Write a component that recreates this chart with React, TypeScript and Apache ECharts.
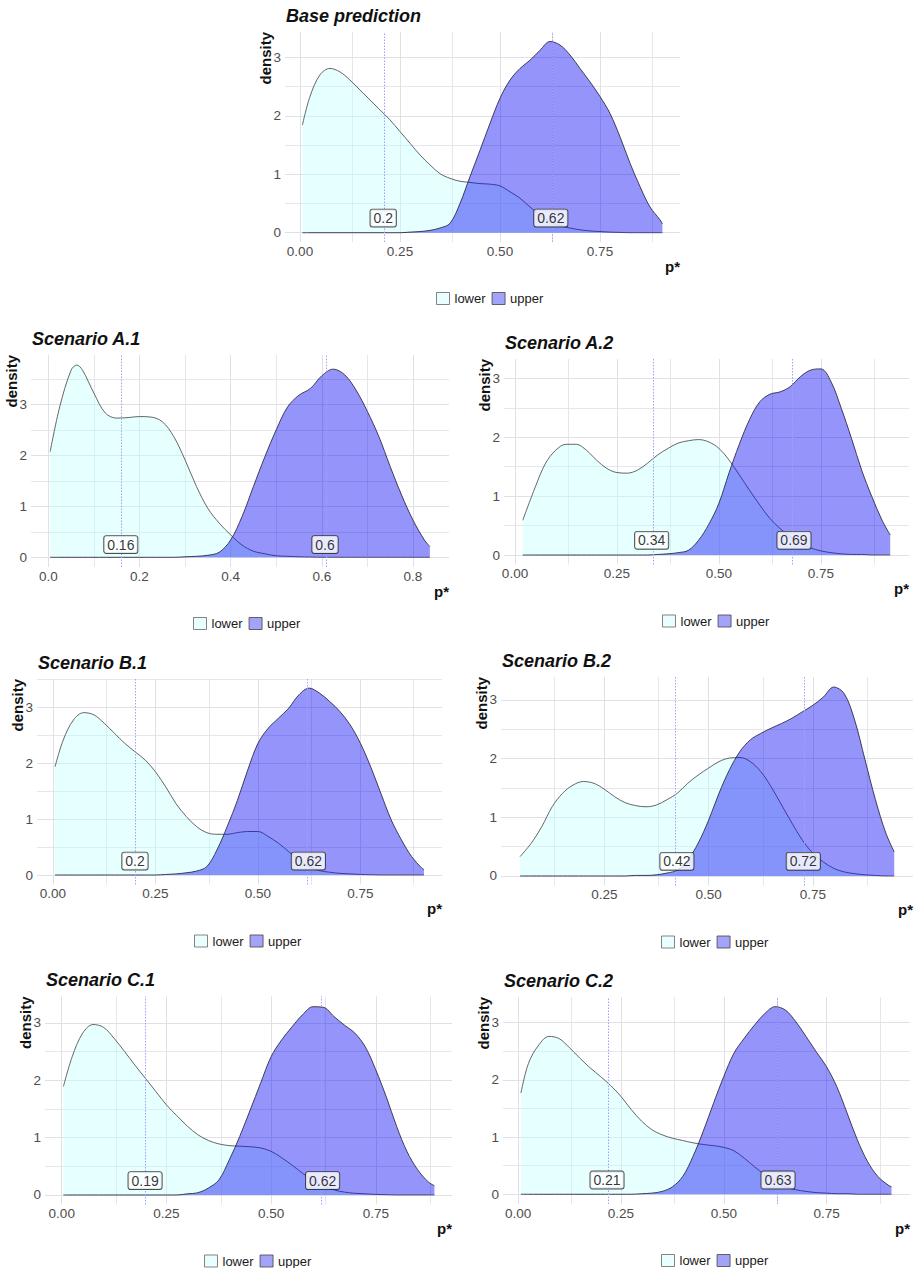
import React, { useEffect, useRef } from "react";
import * as echarts from "echarts";

// ---------- DATA ----------
const baseX = [0.006, 0.025, 0.05, 0.075, 0.1, 0.125, 0.15, 0.175, 0.2, 0.225, 0.25, 0.275, 0.3, 0.325, 0.35, 0.375, 0.4, 0.425, 0.45, 0.475, 0.5, 0.525, 0.55, 0.575, 0.6, 0.625, 0.65, 0.675, 0.7, 0.725, 0.75, 0.775, 0.8, 0.825, 0.85, 0.875, 0.9, 0.906];
const baseLower = [1.84, 2.33, 2.70, 2.81, 2.75, 2.61, 2.44, 2.27, 2.10, 1.93, 1.73, 1.53, 1.33, 1.16, 1.01, 0.93, 0.88, 0.86, 0.84, 0.83, 0.80, 0.70, 0.59, 0.44, 0.30, 0.19, 0.12, 0.08, 0.05, 0.03, 0.02, 0.01, 0.005, 0, 0, 0, 0, 0];
const baseUpper = [0, 0, 0, 0, 0, 0, 0, 0, 0, 0, 0, 0.01, 0.02, 0.04, 0.08, 0.16, 0.50, 0.96, 1.41, 1.87, 2.30, 2.61, 2.81, 2.95, 3.12, 3.27, 3.21, 3.04, 2.81, 2.58, 2.33, 2.04, 1.64, 1.19, 0.79, 0.44, 0.22, 0.15];

const a1X = [0.004, 0.025, 0.05, 0.0625, 0.075, 0.1, 0.125, 0.15, 0.175, 0.2, 0.225, 0.25, 0.275, 0.3, 0.325, 0.35, 0.375, 0.4, 0.425, 0.45, 0.475, 0.5, 0.525, 0.55, 0.575, 0.6, 0.625, 0.65, 0.675, 0.7, 0.725, 0.75, 0.775, 0.8, 0.825, 0.837];
const a1Lower = [2.07, 2.95, 3.67, 3.77, 3.67, 3.22, 2.83, 2.73, 2.74, 2.76, 2.75, 2.66, 2.37, 1.91, 1.39, 0.96, 0.67, 0.44, 0.24, 0.12, 0.07, 0.03, 0.02, 0.01, 0.005, 0, 0, 0, 0, 0, 0, 0, 0, 0, 0, 0];
const a1Upper = [0, 0, 0, 0, 0, 0, 0, 0, 0, 0, 0, 0, 0, 0.01, 0.02, 0.04, 0.10, 0.34, 0.80, 1.39, 1.97, 2.50, 2.95, 3.18, 3.31, 3.56, 3.69, 3.58, 3.28, 2.86, 2.37, 1.78, 1.22, 0.73, 0.34, 0.21];

const a2X = [0.019, 0.05, 0.075, 0.1, 0.125, 0.15, 0.175, 0.2, 0.225, 0.25, 0.275, 0.3, 0.325, 0.35, 0.375, 0.4, 0.425, 0.45, 0.475, 0.5, 0.525, 0.55, 0.575, 0.6, 0.625, 0.65, 0.675, 0.7, 0.725, 0.75, 0.775, 0.8, 0.825, 0.85, 0.875, 0.9, 0.92];
const a2Lower = [0.59, 1.16, 1.56, 1.78, 1.88, 1.88, 1.78, 1.61, 1.47, 1.40, 1.39, 1.44, 1.56, 1.70, 1.81, 1.90, 1.94, 1.96, 1.92, 1.81, 1.61, 1.36, 1.10, 0.85, 0.62, 0.45, 0.31, 0.20, 0.12, 0.07, 0.04, 0.02, 0.01, 0.01, 0, 0, 0];
const a2Upper = [0, 0, 0, 0, 0, 0, 0, 0, 0, 0, 0, 0, 0, 0.01, 0.02, 0.04, 0.08, 0.25, 0.52, 0.88, 1.40, 1.88, 2.30, 2.60, 2.73, 2.77, 2.86, 3.03, 3.14, 3.16, 2.94, 2.49, 1.98, 1.44, 0.99, 0.59, 0.34];

const b1X = [0.005, 0.025, 0.05, 0.075, 0.1, 0.125, 0.15, 0.175, 0.2, 0.225, 0.25, 0.275, 0.3, 0.325, 0.35, 0.375, 0.4, 0.425, 0.45, 0.475, 0.5, 0.525, 0.55, 0.575, 0.6, 0.625, 0.65, 0.675, 0.7, 0.725, 0.75, 0.775, 0.8, 0.825, 0.85, 0.875, 0.9, 0.905];
const b1Lower = [1.94, 2.42, 2.78, 2.91, 2.87, 2.72, 2.54, 2.36, 2.21, 2.06, 1.85, 1.58, 1.28, 1.05, 0.87, 0.76, 0.73, 0.73, 0.76, 0.78, 0.78, 0.69, 0.57, 0.42, 0.27, 0.15, 0.08, 0.05, 0.03, 0.02, 0.01, 0.005, 0, 0, 0, 0, 0, 0];
const b1Upper = [0, 0, 0, 0, 0, 0, 0, 0, 0, 0, 0, 0.01, 0.02, 0.04, 0.07, 0.15, 0.45, 0.87, 1.34, 1.88, 2.36, 2.63, 2.81, 2.99, 3.23, 3.35, 3.26, 3.11, 2.93, 2.69, 2.36, 1.94, 1.46, 0.99, 0.63, 0.33, 0.12, 0.10];

const b2X = [0.048, 0.075, 0.1, 0.125, 0.15, 0.175, 0.2, 0.225, 0.25, 0.275, 0.3, 0.325, 0.35, 0.375, 0.4, 0.425, 0.45, 0.475, 0.5, 0.525, 0.55, 0.575, 0.6, 0.625, 0.65, 0.675, 0.7, 0.725, 0.75, 0.775, 0.8, 0.825, 0.85, 0.875, 0.9, 0.925, 0.945];
const b2Lower = [0.33, 0.56, 0.84, 1.18, 1.41, 1.55, 1.61, 1.58, 1.48, 1.35, 1.25, 1.20, 1.18, 1.21, 1.30, 1.41, 1.58, 1.72, 1.84, 1.95, 2.01, 2.02, 1.95, 1.78, 1.52, 1.21, 0.90, 0.61, 0.39, 0.24, 0.13, 0.07, 0.04, 0.02, 0.01, 0, 0];
const b2Upper = [0, 0, 0, 0, 0, 0, 0, 0, 0, 0, 0, 0.01, 0.01, 0.02, 0.05, 0.10, 0.27, 0.56, 0.95, 1.41, 1.81, 2.12, 2.32, 2.43, 2.52, 2.60, 2.69, 2.80, 2.91, 3.05, 3.22, 3.11, 2.66, 1.98, 1.30, 0.73, 0.41];

const c1X = [0.004, 0.025, 0.05, 0.075, 0.1, 0.125, 0.15, 0.175, 0.2, 0.225, 0.25, 0.275, 0.3, 0.325, 0.35, 0.375, 0.4, 0.425, 0.45, 0.475, 0.5, 0.525, 0.55, 0.575, 0.6, 0.625, 0.65, 0.675, 0.7, 0.725, 0.75, 0.775, 0.8, 0.825, 0.85, 0.875, 0.89];
const c1Lower = [1.89, 2.41, 2.82, 2.97, 2.92, 2.73, 2.50, 2.26, 2.03, 1.80, 1.57, 1.38, 1.20, 1.05, 0.95, 0.89, 0.86, 0.85, 0.84, 0.82, 0.76, 0.65, 0.52, 0.38, 0.26, 0.16, 0.09, 0.05, 0.03, 0.02, 0.01, 0.005, 0, 0, 0, 0, 0];
const c1Upper = [0, 0, 0, 0, 0, 0, 0, 0, 0, 0, 0, 0, 0.02, 0.04, 0.12, 0.26, 0.61, 1.02, 1.48, 1.95, 2.41, 2.70, 2.93, 3.14, 3.28, 3.27, 3.11, 2.96, 2.82, 2.58, 2.18, 1.71, 1.19, 0.75, 0.44, 0.23, 0.16];

const c2X = [0.0066, 0.025, 0.05, 0.075, 0.1, 0.125, 0.15, 0.175, 0.2, 0.225, 0.25, 0.275, 0.3, 0.325, 0.35, 0.375, 0.4, 0.425, 0.45, 0.475, 0.5, 0.525, 0.55, 0.575, 0.6, 0.625, 0.65, 0.675, 0.7, 0.725, 0.75, 0.775, 0.8, 0.825, 0.85, 0.875, 0.9, 0.908];
const c2Lower = [1.77, 2.29, 2.61, 2.76, 2.72, 2.56, 2.38, 2.21, 2.06, 1.90, 1.71, 1.48, 1.28, 1.13, 1.04, 0.98, 0.94, 0.90, 0.87, 0.85, 0.82, 0.76, 0.63, 0.48, 0.34, 0.22, 0.13, 0.08, 0.05, 0.03, 0.02, 0.01, 0.01, 0, 0, 0, 0, 0];
const c2Upper = [0, 0, 0, 0, 0, 0, 0, 0, 0, 0, 0, 0, 0.01, 0.02, 0.05, 0.13, 0.31, 0.66, 1.10, 1.59, 2.06, 2.47, 2.73, 2.96, 3.16, 3.28, 3.22, 3.02, 2.76, 2.49, 2.23, 1.88, 1.42, 0.95, 0.57, 0.31, 0.16, 0.13];

const titles = ["Base prediction", "Scenario A.1", "Scenario A.2", "Scenario B.1", "Scenario B.2", "Scenario C.1", "Scenario C.2"];
const cutValues = [[0.208, 0.627], [0.159, 0.607], [0.335, 0.684], [0.2, 0.623], [0.424, 0.727], [0.199, 0.623], [0.216, 0.632]];
const cutLabels = [["0.2", "0.62"], ["0.16", "0.6"], ["0.34", "0.69"], ["0.2", "0.62"], ["0.42", "0.72"], ["0.19", "0.62"], ["0.21", "0.63"]];
const xTicksQuarter = [0, 0.25, 0.5, 0.75];
const xMinorQuarter = [0.125, 0.375, 0.625, 0.875];
const xTicksFifth = [0, 0.2, 0.4, 0.6, 0.8];
const xMinorFifth = [0.1, 0.3, 0.5, 0.7];
const yTicks = [0, 1, 2, 3];
const yMinor = [0.5, 1.5, 2.5, 3.5];
const legendNames = ["lower", "upper"];
const LABEL_Y = 0.25;

const PANELS = [
  { x: baseX, lower: baseLower, upper: baseUpper, ticks: xTicksQuarter, minor: xMinorQuarter, dec: 2 },
  { x: a1X, lower: a1Lower, upper: a1Upper, ticks: xTicksFifth, minor: xMinorFifth, dec: 1 },
  { x: a2X, lower: a2Lower, upper: a2Upper, ticks: xTicksQuarter, minor: xMinorQuarter, dec: 2 },
  { x: b1X, lower: b1Lower, upper: b1Upper, ticks: xTicksQuarter, minor: xMinorQuarter, dec: 2 },
  { x: b2X, lower: b2Lower, upper: b2Upper, ticks: [0.25, 0.5, 0.75], minor: xMinorQuarter, dec: 2 },
  { x: c1X, lower: c1Lower, upper: c1Upper, ticks: xTicksQuarter, minor: xMinorQuarter, dec: 2 },
  { x: c2X, lower: c2Lower, upper: c2Upper, ticks: xTicksQuarter, minor: xMinorQuarter, dec: 2 },
];

// ---------- LAYOUT ----------
const LAYOUT = [
  { left: 285, right: 680, top: 32, bottom: 242, xMin: -0.0375, xMax: 0.95, yMin: -0.159, yMax: 3.433, legendLeft: 431 },
  { left: 31, right: 449, top: 355, bottom: 567, xMin: -0.038, xMax: 0.879, yMin: -0.19, yMax: 3.967, legendLeft: 188 },
  { left: 504, right: 909, top: 359, bottom: 564.5, xMin: -0.027, xMax: 0.966, yMin: -0.161, yMax: 3.328, legendLeft: 657 },
  { left: 37, right: 442, top: 679, bottom: 884.5, xMin: -0.039, xMax: 0.949, yMin: -0.17, yMax: 3.513, legendLeft: 189 },
  { left: 501, right: 913, top: 677, bottom: 885.5, xMin: 0.0024, xMax: 0.99, yMin: -0.162, yMax: 3.392, legendLeft: 656 },
  { left: 45, right: 452, top: 996.5, bottom: 1204.5, xMin: -0.04, xMax: 0.932, yMin: -0.166, yMax: 3.458, legendLeft: 199 },
  { left: 503, right: 910, top: 997, bottom: 1204, xMin: -0.037, xMax: 0.953, yMin: -0.17, yMax: 3.449, legendLeft: 656 },
];

const FONT = '"Liberation Sans", Arial, Helvetica, sans-serif';
const LOWER_FILL = "rgba(195,255,255,0.42)";
const UPPER_FILL = "rgba(0,0,245,0.42)";
const GRID_COLOR = "#e0e0e7";

function buildOption() {
  const grid: any[] = [];
  const xAxis: any[] = [];
  const yAxis: any[] = [];
  const series: any[] = [];
  const legend: any[] = [];
  const graphic: any[] = [];

  // legend-icon carriers (first series with each name)
  series.push({ type: "scatter", name: "lower", xAxisIndex: 0, yAxisIndex: 0, data: [], silent: true });
  series.push({ type: "scatter", name: "upper", xAxisIndex: 0, yAxisIndex: 0, data: [], silent: true });

  PANELS.forEach((p, i) => {
    const L = LAYOUT[i];
    grid.push({ left: L.left, top: L.top, width: L.right - L.left, height: L.bottom - L.top });
    xAxis.push({
      type: "value", gridIndex: i, min: L.xMin, max: L.xMax,
      axisLine: { show: false }, axisTick: { show: false }, splitLine: { show: false },
      axisLabel: {
        customValues: p.ticks, formatter: (v: number) => v.toFixed(p.dec),
        color: "#4d4d4d", fontSize: 13.5, margin: 2, fontFamily: FONT,
      },
    });
    yAxis.push({
      type: "value", gridIndex: i, min: L.yMin, max: L.yMax,
      axisLine: { show: false }, axisTick: { show: false }, splitLine: { show: false },
      axisLabel: {
        customValues: yTicks, formatter: (v: number) => String(v),
        color: "#4d4d4d", fontSize: 13.5, margin: 4, fontFamily: FONT,
      },
    });

    const gridLines: any[] = [];
    p.ticks.forEach((v) => gridLines.push({ xAxis: v, lineStyle: { width: 1 } }));
    p.minor.filter((v) => v > L.xMin && v < L.xMax).forEach((v) => gridLines.push({ xAxis: v, lineStyle: { width: 0.8 } }));
    yTicks.forEach((v) => gridLines.push({ yAxis: v, lineStyle: { width: 1 } }));
    yMinor.filter((v) => v < L.yMax).forEach((v) => gridLines.push({ yAxis: v, lineStyle: { width: 0.8 } }));

    series.push({
      type: "line", name: "grid" + i, xAxisIndex: i, yAxisIndex: i, data: [], z: 0, silent: true,
      markLine: {
        z: 0, silent: true, symbol: ["none", "none"], label: { show: false },
        lineStyle: { color: GRID_COLOR, type: "solid" }, emphasis: { disabled: true },
        data: gridLines,
      },
    });

    series.push({
      type: "line", name: "lower", xAxisIndex: i, yAxisIndex: i, z: 2,
      data: p.x.map((x, k) => [x, p.lower[k]]),
      smooth: 0.35, symbol: "none", silent: true,
      lineStyle: { color: "#555555", width: 0.9 },
      areaStyle: { color: LOWER_FILL, opacity: 1 },
    });
    series.push({
      type: "line", name: "upper", xAxisIndex: i, yAxisIndex: i, z: 3,
      data: p.x.map((x, k) => [x, p.upper[k]]),
      smooth: 0.35, symbol: "none", silent: true,
      lineStyle: { color: "#2c2c48", width: 0.9 },
      areaStyle: { color: UPPER_FILL, opacity: 1 },
    });

    series.push({
      type: "scatter", name: "cuts" + i, xAxisIndex: i, yAxisIndex: i, z: 6, silent: true,
      symbolSize: 0,
      data: cutValues[i].map((c, k) => ({ value: [c, LABEL_Y], label: { formatter: cutLabels[i][k] } })),
      label: {
        show: true, position: "inside", backgroundColor: "#ffffff", borderColor: "#222222",
        borderWidth: 0.9, borderRadius: 2, padding: [2, 3, 1, 3], fontSize: 14, color: "#000000",
        fontFamily: FONT,
      },
      markLine: {
        z: 5, silent: true, symbol: ["none", "none"], label: { show: false },
        lineStyle: { color: "#a0a0ff", type: [1.5, 1.5], width: 1 }, emphasis: { disabled: true },
        data: cutValues[i].map((c) => ({ xAxis: c })),
      },
    });

    legend.push({
      left: L.legendLeft, top: L.bottom + 51 - 6, orient: "horizontal",
      itemWidth: 13, itemHeight: 12, itemGap: 6, selectedMode: false,
      textStyle: { fontSize: 13, color: "#1a1a1a", fontFamily: FONT },
      data: [
        { name: legendNames[0], icon: "rect", itemStyle: { color: "#e3ffff", borderColor: "#666666", borderWidth: 1 } },
        { name: legendNames[1], icon: "rect", itemStyle: { color: "#8c8cf8", borderColor: "#444444", borderWidth: 1 } },
      ],
    });

    graphic.push({
      type: "text", x: L.left + 1, y: L.top - 16.5, silent: true,
      style: { text: titles[i], fill: "#111111", font: `italic bold 18px ${FONT}`, textAlign: "left", textVerticalAlign: "middle" },
    });
    graphic.push({
      type: "text", x: L.left - 20, y: L.top, rotation: Math.PI / 2, silent: true,
      style: { text: "density", fill: "#111111", font: `bold 15px ${FONT}`, textAlign: "right", textVerticalAlign: "middle" },
    });
    graphic.push({
      type: "text", x: L.right, y: L.bottom + 24, silent: true,
      style: { text: "p*", fill: "#111111", font: `bold 15px ${FONT}`, textAlign: "right", textVerticalAlign: "middle" },
    });
  });

  return {
    animation: false,
    backgroundColor: "#ffffff",
    grid, xAxis, yAxis, series, legend, graphic,
  };
}

export default function App() {
  const ref = useRef<HTMLDivElement>(null);
  useEffect(() => {
    if (!ref.current) return;
    const chart = echarts.init(ref.current, null, { renderer: "svg" });
    chart.setOption(buildOption() as any);
    return () => chart.dispose();
  }, []);
  return (
    <div
      ref={ref}
      style={{ position: "absolute", left: 0, top: 0, width: 916, height: 1268, background: "#ffffff" }}
    />
  );
}
